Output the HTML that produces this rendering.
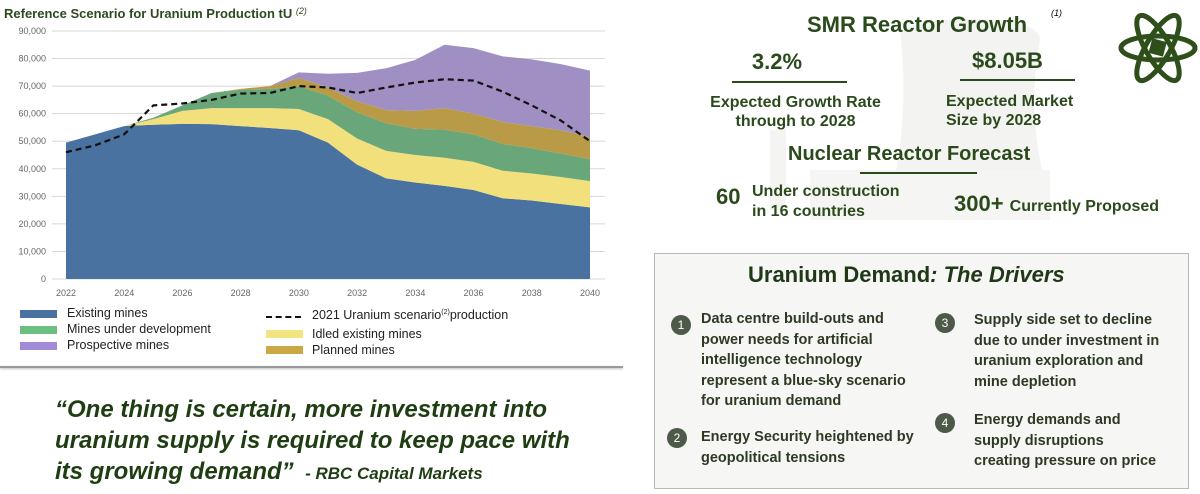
<!DOCTYPE html>
<html><head><meta charset="utf-8">
<style>
body{margin:0;width:1200px;height:494px;overflow:hidden;background:#fff;font-family:"Liberation Sans",sans-serif;position:relative}
.a{position:absolute;white-space:nowrap}
.g{color:#2b4a1c;font-weight:bold}
.lg{font-size:12.5px;color:#222}
.sw{position:absolute;width:37px;height:8px}
.it{position:absolute;font-size:14.5px;font-weight:bold;color:#2c3a24;line-height:20.5px}
.num{position:absolute;width:20px;height:20px;border-radius:50%;background:#4d5a4a;color:#fff;font-size:12px;text-align:center;line-height:20px}
</style></head><body>
<svg id="chart" width="620" height="300" style="position:absolute;left:0;top:0"></svg>
<div class="a g" style="left:4px;top:6px;font-size:13px;color:#2d4a1e">Reference Scenario for Uranium Production tU <i style="font-weight:normal;font-size:9px;vertical-align:top">(2)</i></div>

<div>
<div class="sw" style="left:20px;top:310px;background:#4a72a0"></div>
<div class="a lg" style="left:67px;top:306px">Existing mines</div>
<div class="sw" style="left:20px;top:326px;background:#6cbf7f"></div>
<div class="a lg" style="left:67px;top:322px">Mines under development</div>
<div class="sw" style="left:20px;top:342px;background:#a38ad6"></div>
<div class="a lg" style="left:67px;top:338px">Prospective mines</div>
<div class="a" style="left:266px;top:316px;width:35px;border-top:2px dashed #111"></div>
<div class="a lg" style="left:312px;top:308px">2021 Uranium scenario<sup style="font-size:7px">(2)</sup>production</div>
<div class="sw" style="left:266px;top:330px;background:#f2e57f"></div>
<div class="a lg" style="left:312px;top:327px">Idled existing mines</div>
<div class="sw" style="left:266px;top:346px;background:#c9a845"></div>
<div class="a lg" style="left:312px;top:343px">Planned mines</div>
</div>
<div class="a" style="left:0;top:366px;width:623px;height:2px;background:#999;box-shadow:0 1px 2px #bbb"></div>

<div class="a" style="left:55px;top:394px;font-size:24px;font-weight:bold;font-style:italic;color:#1f3d12;line-height:31px">“One thing is certain, more investment into<br>uranium supply is required to keep pace with<br>its growing demand” <span style="font-size:17px">&nbsp;- RBC Capital Markets</span></div>

<!-- right top -->
<svg class="a" style="left:740px;top:0" width="330" height="230">
<path d="M160 30 Q200 15 260 20 Q300 25 300 40 Q285 120 310 200 L150 200 Q170 120 160 30Z" fill="#f3f3f1"/>
<rect x="30" y="130" width="16" height="80" fill="#f4f4f2"/><rect x="70" y="170" width="240" height="50" fill="#f5f5f3"/>
</svg>
<div class="a g" style="left:807px;top:12px;font-size:22px">SMR Reactor Growth</div>
<div class="a" style="left:1051px;top:8px;font-size:9px;font-style:italic">(1)</div>
<div class="a g" style="left:742px;top:49px;font-size:22px;width:70px;text-align:center">3.2%</div>
<div class="a" style="left:732px;top:81px;width:115px;height:2px;background:#2b4a1c"></div>
<div class="a g" style="left:698px;top:93px;font-size:16px;text-align:center;line-height:19px;width:195px">Expected Growth Rate<br>through to 2028</div>
<div class="a g" style="left:972px;top:48px;font-size:22px">$8.05B</div>
<div class="a" style="left:960px;top:79px;width:115px;height:2px;background:#2b4a1c"></div>
<div class="a g" style="left:946px;top:92px;font-size:16px;line-height:19px">Expected Market<br>Size by 2028</div>
<div class="a g" style="left:788px;top:143px;font-size:20px">Nuclear Reactor Forecast</div>
<div class="a" style="left:860px;top:172px;width:117px;height:2px;background:#2b4a1c"></div>
<div class="a g" style="left:716px;top:184px;font-size:22px">60</div>
<div class="a g" style="left:752px;top:182px;font-size:16px;line-height:20px">Under construction<br>in 16 countries</div>
<div class="a g" style="left:954px;top:191px;font-size:22px">300+ <span style="font-size:16px">Currently Proposed</span></div>
<svg class="a" style="left:1118px;top:10px" width="80" height="76">
<g fill="none" stroke="#2f4f1a" stroke-width="5" transform="translate(40,38)">
<ellipse rx="37" ry="12"/><ellipse rx="37" ry="12" transform="rotate(60)"/><ellipse rx="37" ry="12" transform="rotate(-60)"/></g>
<rect x="32" y="30" width="15" height="15" fill="#2f4f1a" transform="rotate(15 40 38)"/>
</svg>

<!-- drivers -->
<div class="a" style="left:654px;top:253px;width:533px;height:234px;background:#f6f6f4;border:1px solid #b8b8b8"></div>
<div class="a g" style="left:748px;top:262px;font-size:22px;color:#203818">Uranium Demand<i>: The Drivers</i></div>
<div class="num" style="left:671px;top:315px">1</div>
<div class="it" style="left:701px;top:309px">Data centre build-outs and<br>power needs for artificial<br>intelligence technology<br>represent a blue-sky scenario<br>for uranium demand</div>
<div class="num" style="left:667px;top:428px">2</div>
<div class="it" style="left:701px;top:427px">Energy Security heightened by<br>geopolitical tensions</div>
<div class="num" style="left:935px;top:313px">3</div>
<div class="it" style="left:974px;top:310px">Supply side set to decline<br>due to under investment in<br>uranium exploration and<br>mine depletion</div>
<div class="num" style="left:935px;top:413px">4</div>
<div class="it" style="left:974px;top:410px">Energy demands and<br>supply disruptions<br>creating pressure on price</div>

<script>
const years=[2022,2023,2024,2025,2026,2027,2028,2029,2030,2031,2032,2033,2034,2035,2036,2037,2038,2039,2040];
const existing=[49.5,52.5,55.5,56,56.3,56.2,55.5,54.8,54,49.5,41.5,36.5,35,33.8,32.3,29.3,28.5,27.2,26];
const idled=[0,0,0,2,4.7,5.8,6.5,7.2,7.7,8.5,9.5,10,10,10.2,10.2,10,9.8,9.8,9.5];
const development=[0,0,0,0.5,2,5.5,6.7,7,8.3,8.5,9.5,10,9.5,10.2,10,9.7,9.2,8.5,8];
const planned=[0,0,0,0,0,0,0.3,1,3,3,4,4.8,6.5,7.8,7.5,8,8,8.5,8];
const prospective=[0,0,0,0,0,0,0,0,2,5,10.3,15.2,18.5,23,23.8,23.8,24.2,24,24.1];
const scenario=[46,48.5,52.5,63,63.7,65,67.3,67.5,70,69.5,67.5,69.5,71.3,72.5,72,68,63,57.5,50];
const yTicks=[0,10,20,30,40,50,60,70,80,90];
const xTicks=[2022,2024,2026,2028,2030,2032,2034,2036,2038,2040];
const NS="http://www.w3.org/2000/svg",svg=document.getElementById('chart');
const X=y=>66+(y-2022)/18*524, Y=v=>279-v/90*248;
function mk(t,a){const e=document.createElementNS(NS,t);for(const k in a)e.setAttribute(k,a[k]);svg.appendChild(e);return e;}
yTicks.forEach(t=>{
  const l=mk('line',{x1:52,x2:605,y1:Y(t),y2:Y(t),stroke:'#d8d8d8','stroke-width':1});
  
  
  const tx=mk('text',{x:46,y:Y(t)+3,'text-anchor':'end','font-size':9,fill:'#666'});
  tx.textContent=t===0?'0':t+',000';
  
  
});
xTicks.forEach(t=>{
  const tx=mk('text',{x:X(t),y:296,'text-anchor':'middle','font-size':9,fill:'#666'});
  tx.textContent=t;
  
  
});
const layers=[[existing,'#4a72a0','area-existing'],[idled,'#f1e07c','area-idled'],[development,'#69a679','area-development'],[planned,'#b89a47','area-planned'],[prospective,'#a08fc2','area-prospective']];
let base=years.map(()=>0);
layers.forEach(([arr,c,n])=>{
  const top=base.map((b,i)=>b+arr[i]);
  let d='M'+years.map((y,i)=>X(y)+','+Y(top[i])).join('L');
  for(let i=years.length-1;i>=0;i--)d+='L'+X(years[i])+','+Y(base[i]);
  const p=mk('path',{d:d+'Z',fill:c});
  
  
  base=top;
});
const ln=mk('polyline',{points:years.map((y,i)=>X(y)+','+Y(scenario[i])).join(' '),fill:'none',stroke:'#111','stroke-width':2.2,'stroke-dasharray':'6,4'});


</script>
</body></html>
